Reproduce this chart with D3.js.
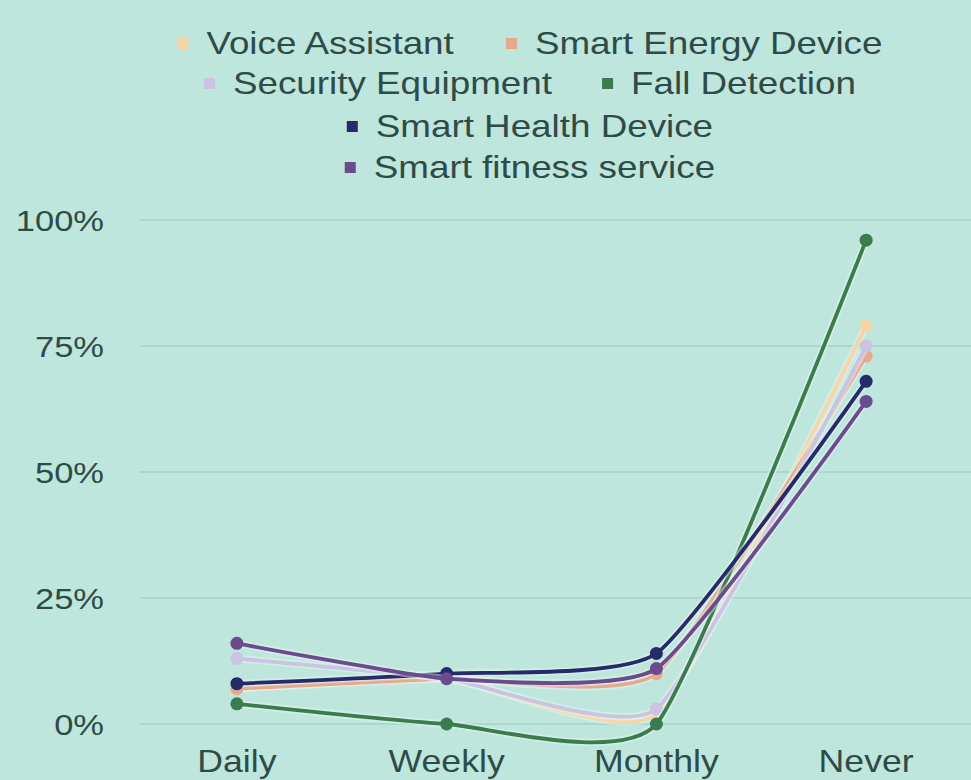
<!DOCTYPE html>
<html>
<head>
<meta charset="utf-8">
<script src="https://cdn.jsdelivr.net/npm/d3@7"></script>
<style>
  html, body { margin: 0; padding: 0; background: #bee6dc; }
  svg { display: block; }
</style>
</head>
<body>
<div id="chart"></div>
<script>
// ========================
// Data
// ========================
const categories = ["Daily", "Weekly", "Monthly", "Never"];
const seriesNames = ["Voice Assistant", "Smart Energy Device", "Security Equipment",
                     "Fall Detection", "Smart Health Device", "Smart fitness service"];
const voiceAssistant = [7, 9, 2, 79];
const smartEnergy = [7, 9, 10, 73];
const securityEquip = [13, 9, 3, 75];
const fallDetection = [4, 0, 0, 96];
const smartHealth = [8, 10, 14, 68];
const smartFitness = [16, 9, 11, 64];
const yTicks = [0, 25, 50, 75, 100];

const colors = ["#f6d6a6", "#e5aa8e", "#cac3e2", "#3b7c4f", "#242a6a", "#6a4b8d"];
const allValues = [voiceAssistant, smartEnergy, securityEquip, fallDetection, smartHealth, smartFitness];

const series = seriesNames.map((name, i) => ({ name, color: colors[i], values: allValues[i] }));

// ========================
// Setup
// ========================
const width = 971, height = 780;
const textColor = "#2f4b47";
const fontFamily = "'Liberation Sans', Arial, sans-serif";
const sx = 1.15; // text in the original is a bit wider than normal

const svg = d3.select("#chart").append("svg")
    .attr("width", width)
    .attr("height", height);

const x = d3.scalePoint()
    .domain(categories)
    .range([132, 971])
    .padding(0.5);

const y = d3.scaleLinear()
    .domain([0, 100])
    .range([724, 220]);

// grid
svg.append("g")
    .selectAll("line")
    .data(yTicks)
    .join("line")
    .attr("x1", 140)
    .attr("x2", width)
    .attr("y1", d => y(d))
    .attr("y2", d => y(d))
    .attr("stroke", "#a2d3c8")
    .attr("stroke-width", 1.5);

// y labels
svg.append("g")
    .selectAll("text")
    .data(yTicks)
    .join("text")
    .attr("transform", d => `translate(104,${y(d)}) scale(${sx},1)`)
    .attr("dy", "0.35em")
    .attr("text-anchor", "end")
    .attr("fill", textColor)
    .style("font-family", fontFamily)
    .style("font-size", "30px")
    .text(d => d + "%");

// x labels
svg.append("g")
    .selectAll("text")
    .data(categories)
    .join("text")
    .attr("transform", d => `translate(${x(d)},761) scale(${sx},1)`)
    .attr("dy", "0.35em")
    .attr("text-anchor", "middle")
    .attr("fill", textColor)
    .style("font-family", fontFamily)
    .style("font-size", "31px")
    .text(d => d);

// lines
const line = d3.line()
    .x((d, i) => x(categories[i]))
    .y(d => y(d))
    .curve(d3.curveCardinal.tension(0.5));

const lines = svg.append("g");

series.forEach(s => {
    const g = lines.append("g");
    g.append("path")
        .attr("d", line(s.values))
        .attr("fill", "none")
        .attr("stroke", "#e8f6f2")
        .attr("stroke-opacity", 0.45)
        .attr("stroke-width", 7.5);
    g.append("path")
        .attr("d", line(s.values))
        .attr("fill", "none")
        .attr("stroke", s.color)
        .attr("stroke-width", 3.8);
    g.selectAll("circle")
        .data(s.values)
        .join("circle")
        .attr("cx", (d, i) => x(categories[i]))
        .attr("cy", d => y(d))
        .attr("r", 6.5)
        .attr("fill", s.color);
});

// ========================
// Legend
// ========================
const legendRows = [
    [0, 1],
    [2, 3],
    [4],
    [5]
];
const legendY = [43, 83, 126, 167];
const legendFont = "32px " + fontFamily;

const measureCtx = document.createElement("canvas").getContext("2d");
measureCtx.font = legendFont;

const legend = svg.append("g");
legendRows.forEach((row, r) => {
    const gap = 50, markerW = 11, markerGap = 18;
    const widths = row.map(i => markerW + markerGap + measureCtx.measureText(seriesNames[i]).width * sx);
    const total = d3.sum(widths) + gap * (row.length - 1);
    let cx = 530 - total / 2;
    row.forEach((i, k) => {
        legend.append("rect")
            .attr("x", cx)
            .attr("y", legendY[r] - 5)
            .attr("width", markerW)
            .attr("height", markerW)
            .attr("fill", colors[i]);
        legend.append("text")
            .attr("transform", `translate(${cx + markerW + markerGap},${legendY[r]}) scale(${sx},1)`)
            .attr("dy", "0.35em")
            .attr("fill", textColor)
            .style("font", legendFont)
            .text(seriesNames[i]);
        cx += widths[k] + gap;
    });
});
</script>
</body>
</html>
